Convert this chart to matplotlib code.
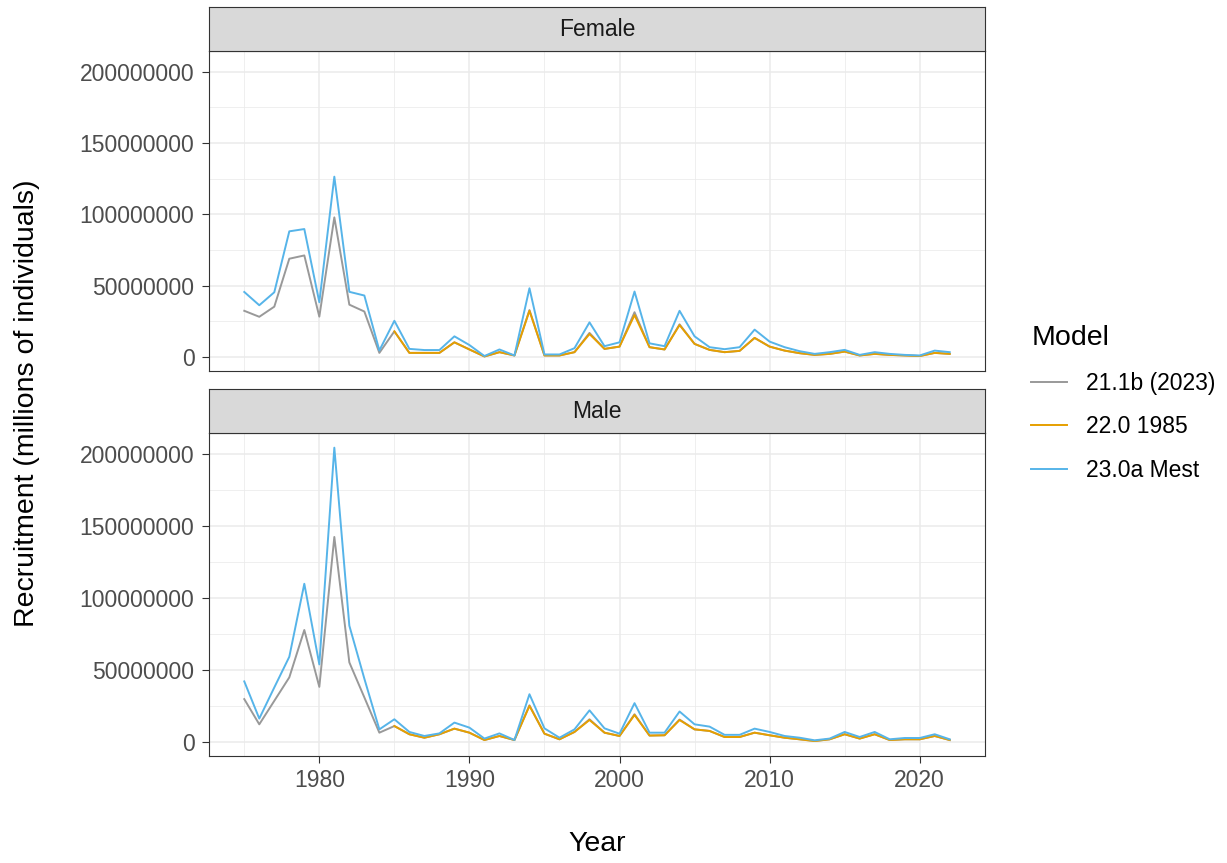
import numpy as np
import matplotlib.pyplot as plt
from matplotlib.ticker import FuncFormatter, MultipleLocator

plt.rcParams["font.family"] = ["Liberation Sans", "DejaVu Sans"]

# recruitment values, millions of individuals
years = np.arange(1975, 2023)
years_1985 = np.arange(1985, 2023)

female_211b = [32.5, 28.3, 35.4, 69.0, 71.3, 28.4, 98.0, 36.8, 32.0, 3.0,
               18.1, 3.0, 3.0, 3.0, 10.4, 5.4, 0.5, 3.5, 1.2, 33.0,
               1.2, 1.2, 3.5, 17.0, 5.8, 7.4, 31.5, 7.0, 5.4, 23.0,
               9.3, 5.1, 3.5, 4.4, 13.5, 7.4, 4.6, 2.8, 1.6, 2.3,
               3.9, 1.2, 2.3, 1.6, 1.2, 0.8, 3.0, 2.3]
female_220 = [18.1, 3.0, 3.0, 3.0, 10.4, 5.4, 0.5, 3.5, 1.2, 32.5,
              1.2, 1.2, 3.5, 16.2, 5.8, 7.4, 29.5, 7.0, 5.4, 22.5,
              9.3, 5.1, 3.5, 4.4, 13.5, 7.4, 4.6, 2.8, 1.6, 2.3,
              3.9, 1.2, 2.3, 1.6, 1.2, 0.8, 3.0, 2.3]
female_230a = [45.7, 36.4, 45.5, 88.2, 89.8, 38.5, 126.5, 45.8, 43.2, 4.7,
               25.5, 5.8, 5.0, 5.0, 14.6, 8.5, 0.8, 5.4, 1.2, 48.3,
               1.9, 1.9, 6.3, 24.4, 7.7, 10.4, 46.0, 9.7, 7.7, 32.5,
               14.6, 7.0, 5.6, 7.0, 19.3, 10.9, 7.0, 4.2, 2.3, 3.5,
               5.1, 1.6, 3.5, 2.3, 1.6, 1.2, 4.6, 3.5]

male_211b = [29.8, 12.3, 28.6, 44.9, 77.8, 38.3, 142.4, 55.3, 31.0, 6.5,
             11.1, 5.4, 3.0, 5.4, 9.3, 6.5, 1.4, 4.2, 1.4, 25.5,
             5.8, 1.9, 7.0, 15.8, 6.5, 4.2, 19.3, 4.5, 4.7, 15.6,
             8.8, 7.7, 3.5, 3.5, 6.5, 4.7, 3.0, 1.9, 0.7, 1.9,
             5.4, 2.4, 5.4, 1.4, 1.9, 1.9, 4.2, 1.4]
male_220 = [11.1, 5.4, 3.0, 5.4, 9.3, 6.5, 1.4, 4.2, 1.4, 25.1,
            5.8, 1.9, 7.0, 15.3, 6.5, 4.2, 18.8, 4.5, 4.7, 15.3,
            8.8, 7.7, 3.5, 3.5, 6.5, 4.7, 3.0, 1.9, 0.7, 1.9,
            5.4, 2.4, 5.4, 1.4, 1.9, 1.9, 4.2, 1.4]
male_230a = [42.1, 16.3, 37.9, 59.2, 109.9, 53.9, 204.4, 80.8, 44.0, 8.8,
             15.8, 7.0, 4.2, 6.0, 13.5, 10.0, 2.4, 6.0, 1.4, 33.2,
             9.5, 3.0, 8.8, 22.0, 9.5, 5.8, 27.0, 6.5, 6.5, 21.2,
             12.3, 10.7, 5.0, 5.0, 9.3, 7.0, 4.2, 3.0, 1.2, 2.4,
             7.0, 3.5, 7.0, 1.9, 2.8, 2.8, 5.4, 1.9]

models = ["21.1b (2023)", "22.0 1985", "23.0a Mest"]
colors = ["#999999", "#E69F00", "#56B4E9"]
panels = ["Female", "Male"]

W, H = 1227, 863
fig = plt.figure(figsize=(W / 100, H / 100), dpi=100)


def box(l, t, r, b):
    return [l / W, 1 - b / H, (r - l) / W, (b - t) / H]


all_vals = np.concatenate([female_211b, female_230a, male_211b, male_230a]) * 1e6
lo, hi = all_vals.min(), all_vals.max()
pad = 0.05 * (hi - lo)
ylims = (lo - pad, hi + pad)
xpad = 0.05 * (years[-1] - years[0])

series = {
    "Female": [(years, female_211b), (years_1985, female_220), (years, female_230a)],
    "Male": [(years, male_211b), (years_1985, male_220), (years, male_230a)],
}
geom = {"Female": (7, 51, 371), "Male": (389, 433, 756)}

handles = []
for name in panels:
    st, top, bot = geom[name]
    ax = fig.add_axes(box(209, top, 985, bot))
    ax.set_facecolor("white")
    for (xs, ys), c, m in zip(series[name], colors, models):
        h, = ax.plot(xs, np.array(ys) * 1e6, color=c, lw=1.4, label=m, zorder=3)
        if name == "Female":
            handles.append(h)
    ax.set_xlim(years[0] - xpad, years[-1] + xpad)
    ax.set_ylim(*ylims)
    ax.xaxis.set_major_locator(MultipleLocator(10))
    ax.xaxis.set_minor_locator(MultipleLocator(5))
    ax.yaxis.set_major_locator(MultipleLocator(50e6))
    ax.yaxis.set_minor_locator(MultipleLocator(25e6))
    ax.yaxis.set_major_formatter(FuncFormatter(lambda v, p: "%d" % round(v)))
    ax.grid(which="major", color="#EBEBEB", lw=1.1, zorder=0)
    ax.grid(which="minor", color="#EBEBEB", lw=0.55, zorder=0)
    ax.tick_params(which="major", length=5, width=0.8, color="#333333",
                   labelsize=16.5, labelcolor="#4D4D4D", pad=5.5)
    ax.tick_params(axis="x", pad=4)
    ax.tick_params(which="minor", length=0)
    if name == "Female":
        ax.tick_params(axis="x", which="both", bottom=False, labelbottom=False)
    for s in ax.spines.values():
        s.set_color("#333333")
        s.set_linewidth(0.8)

    # facet strip
    sax = fig.add_axes(box(209, st, 985, top))
    sax.set_facecolor("#D9D9D9")
    sax.set_xticks([])
    sax.set_yticks([])
    for s in sax.spines.values():
        s.set_color("#333333")
        s.set_linewidth(0.8)
    sax.text(0.5, 0.5, name, ha="center", va="center", fontsize=16.5,
             color="#1A1A1A", transform=sax.transAxes)

fig.text(27 / W, 1 - 403 / H, "Recruitment (millions of individuals)",
         rotation=90, ha="center", va="center", fontsize=20.5)
fig.text(597 / W, 1 - 844 / H, "Year", ha="center", va="center", fontsize=20.5)

leg = fig.legend(handles=handles, labels=models, title="Model",
                 loc="upper left", bbox_to_anchor=(1022 / W, 1 - 316 / H),
                 frameon=False, fontsize=16.5, title_fontsize=20.5,
                 handlelength=1.55, handletextpad=0.85, labelspacing=0.9,
                 alignment="left", borderaxespad=0)
for line in leg.get_lines():
    line.set_linewidth(1.4)

fig.savefig("out.png", dpi=100)
